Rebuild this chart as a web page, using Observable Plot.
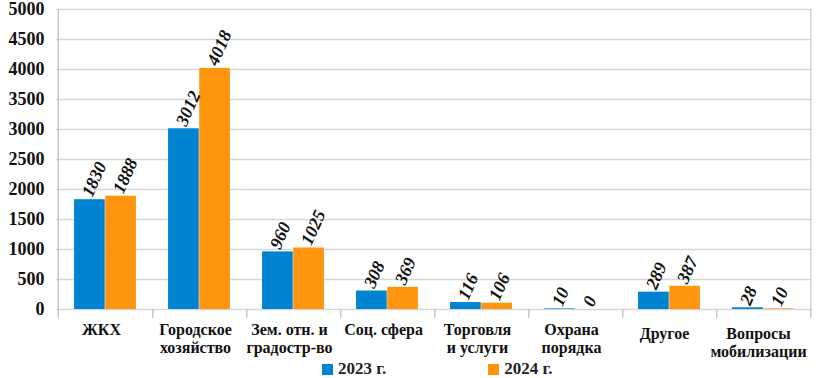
<!DOCTYPE html>
<html><head><meta charset="utf-8">
<script src="https://cdn.jsdelivr.net/npm/d3@7"></script>
<script src="https://cdn.jsdelivr.net/npm/@observablehq/plot@0.6"></script>
<style>
body{margin:0;background:#fff;}
#wrap{width:817px;height:378px;}
#wrap svg{display:block;}
.legend{height:18px;display:flex;align-items:center;font-family:"Liberation Serif","Times New Roman",serif;font-weight:bold;font-size:17px;line-height:18px;color:#222;padding-left:322px;}
.legend span.sw{display:inline-block;width:11px;height:11px;margin-right:5px;}
.legend .item{display:flex;align-items:center;}
</style>
</head><body>
<div id="wrap"></div>
<script>
const categories = ["ЖКХ","Городское\nхозяйство","Зем. отн. и\nградостр-во","Соц. сфера","Торговля\nи услуги","Охрана\nпорядка","Другое","Вопросы\nмобилизации"];
const series = ["2023 г.","2024 г."];
const values2023 = [1830,3012,960,308,116,10,289,28];
const values2024 = [1888,4018,1025,369,106,0,387,10];
const yTicks = [0,500,1000,1500,2000,2500,3000,3500,4000,4500,5000];
const colors = ["#0084d1","#ff950e"];

const W = 817, H = 360, ml = 56, mr = 5, mt = 9, mb = 51;
const bandW = (W - ml - mr) / categories.length;
const outer = bandW * 0.17;
const barW = (bandW - 2 * outer) / 2;

const rows = [];
categories.forEach((c, i) => {
  rows.push({cat: c, s: 0, v: values2023[i]});
  rows.push({cat: c, s: 1, v: values2024[i]});
});
const r0 = rows.filter(d => d.s === 0), r1 = rows.filter(d => d.s === 1);

const font = "Liberation Serif, Times New Roman, serif";
const plot = Plot.plot({
  width: W, height: H,
  marginLeft: ml, marginRight: mr, marginTop: mt, marginBottom: mb,
  style: {fontFamily: font, background: "#fff", color: "#111"},
  x: {domain: categories, padding: 0, label: null},
  y: {domain: [0, 5000], label: null},
  marks: [
    Plot.ruleY(yTicks, {stroke: "#d6d6d6", strokeWidth: 1.5}),
    Plot.ruleX([0], {x: () => categories[0], y1: 5000, y2: -150, dx: -bandW/2, stroke: "#c8c8c8", strokeWidth: 1.5}),
    Plot.ruleX(categories, {x: d => d, y1: 0, y2: -150, dx: bandW/2, stroke: "#c8c8c8", strokeWidth: 1.5}),
    Plot.ruleX([0], {x: () => categories[categories.length-1], y1: 5000, y2: 0, dx: bandW/2, stroke: "#d6d6d6", strokeWidth: 1.5}),
    Plot.barY(r0, {x: "cat", y: "v", fill: colors[0], insetLeft: outer, insetRight: outer + barW}),
    Plot.barY(r1, {x: "cat", y: "v", fill: colors[1], insetLeft: outer + barW, insetRight: outer}),
    Plot.text(r0, {x: "cat", y: "v", text: d => String(d.v), dx: -barW/2 - 3, dy: -4, rotate: -66, textAnchor: "start", lineAnchor: "middle", fontSize: 18, fontWeight: "bold", fontStyle: "italic", fill: "#111"}),
    Plot.text(r1, {x: "cat", y: "v", text: d => String(d.v), dx: barW/2 - 3, dy: -4, rotate: -66, textAnchor: "start", lineAnchor: "middle", fontSize: 18, fontWeight: "bold", fontStyle: "italic", fill: "#111"}),
    Plot.axisY({ticks: yTicks, tickFormat: d => String(d), tickSize: 0, tickPadding: 12, fontSize: 18, fontWeight: "bold", label: null}),
    Plot.axisX({ticks: categories.slice(0, 6), tickSize: 0, tickPadding: 12, dx: -4, fontSize: 16, fontWeight: "bold", lineHeight: 1.15, label: null}),
    Plot.axisX({ticks: categories.slice(6), tickSize: 0, tickPadding: 16, dx: -5, fontSize: 16, fontWeight: "bold", lineHeight: 1.15, label: null})
  ]
});
const wrap = document.getElementById("wrap");
wrap.appendChild(plot);
const lg = document.createElement("div");
lg.className = "legend";
series.forEach((s, i) => {
  const it = document.createElement("div");
  it.className = "item";
  if (i > 0) it.style.marginLeft = "102px";
  it.innerHTML = `<span class="sw" style="background:${colors[i]}"></span>${s}`;
  lg.appendChild(it);
});
wrap.appendChild(lg);
</script>
</body></html>
